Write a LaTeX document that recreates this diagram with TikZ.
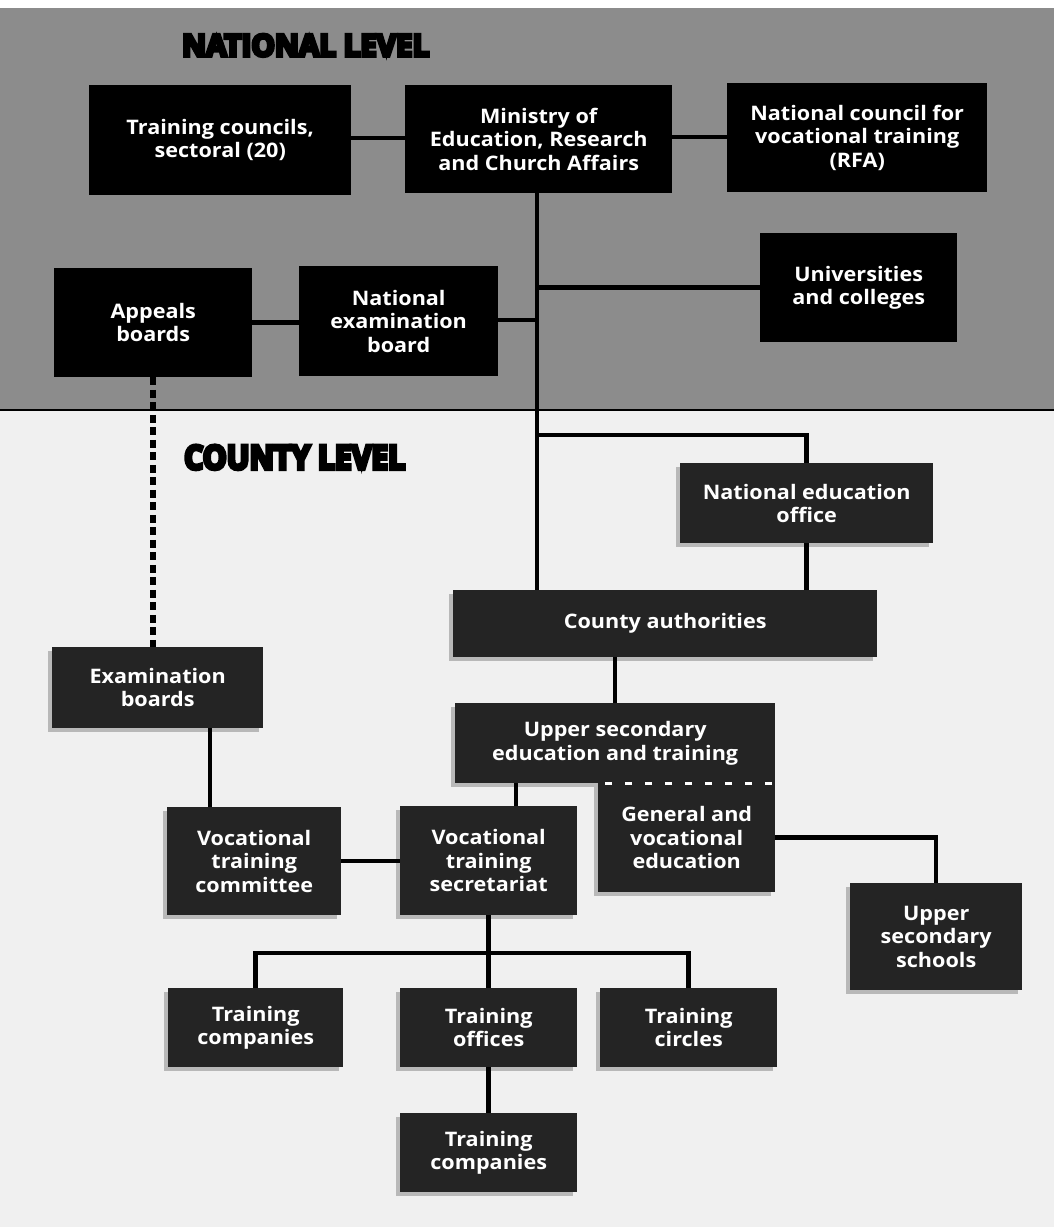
\documentclass[tikz,border=0pt]{standalone}
\usepackage{fontspec}
\usepackage{graphicx}
\usetikzlibrary{shadows}
\setmainfont{Open Sans}[FakeStretch=1.08]
\newfontfamily\heavyfont{Open Sans}
\newcommand\heavytext[1]{\special{pdf:code q 2 Tr 1.1 w 0 G 0 g}{\heavyfont\bfseries #1}\special{pdf:code Q}}
\tikzset{
  nbox/.style={rectangle, fill=black, text=white, inner sep=0pt, align=center,
    anchor=north west, font=\fontsize{20}{23.3}\selectfont\bfseries},
  cbox/.style={nbox, fill=black!86,
    drop shadow={shadow xshift=-4pt, shadow yshift=-4pt, fill=black!28, opacity=1}},
  conn/.style={line width=4.5pt, draw=black},
  dotconn/.style={line width=6.5pt, draw=black, dash pattern=on 8pt off 4.5pt},
  wdash/.style={line width=3pt, draw=white, dash pattern=on 7pt off 13pt},
  ttl/.style={anchor=north west, inner sep=0pt}
}
\begin{document}
\begin{tikzpicture}[x=1pt,y=-1pt]
\useasboundingbox (0,0) rectangle (1054,1227);
% backgrounds
\fill[black!6] (0,410) rectangle (1054,1227);
\fill[black!45] (0,8) rectangle (1054,410);
\draw[line width=1.5pt] (0,410) -- (1054,410);

% titles
\node[ttl] (natl) at (182,34) {\resizebox{247pt}{22pt}{\heavytext{NATIONAL LEVEL}}};
\node[ttl] (cnty) at (184,445) {\resizebox{221pt}{24pt}{\heavytext{COUNTY LEVEL}}};

% national level boxes
\node[nbox, minimum width=262pt, minimum height=110pt] (tc) at (89,85) {Training councils,\\sectoral (20)};
\node[nbox, minimum width=267pt, minimum height=108pt] (min) at (405,85) {Ministry of\\Education, Research\\and Church Affairs};
\node[nbox, minimum width=260pt, minimum height=109pt] (nc) at (727,83) {National council for\\vocational training\\(RFA)};
\node[nbox, minimum width=198pt, minimum height=109pt] (app) at (54,268) {Appeals\\boards};
\node[nbox, minimum width=199pt, minimum height=110pt] (neb) at (299,266) {National\\examination\\board};
\node[nbox, minimum width=197pt, minimum height=109pt] (uni) at (760,233) {Universities\\and colleges};

% county level boxes
\node[cbox, minimum width=253pt, minimum height=80pt] (neo) at (680,463) {National education\\office};
\node[cbox, minimum width=424pt, minimum height=67pt] (ca) at (453,590) {County authorities};
\node[cbox, minimum width=211pt, minimum height=81pt] (eb) at (52,647) {Examination\\boards};
\node[cbox, minimum width=320pt, minimum height=80pt] (us) at (455,703) {Upper secondary\\education and training};
\node[cbox, minimum width=177pt, minimum height=109pt] (gen) at (598,783) {General and\\vocational\\education};
\node[cbox, minimum width=174pt, minimum height=108pt] (vtc) at (167,807) {Vocational\\training\\committee};
\node[cbox, minimum width=177pt, minimum height=109pt] (vts) at (400,806) {Vocational\\training\\secretariat};
\node[cbox, minimum width=172pt, minimum height=107pt] (uss) at (850,883) {Upper\\secondary\\schools};
\node[cbox, minimum width=175pt, minimum height=79pt] (tc1) at (168,988) {Training\\companies};
\node[cbox, minimum width=177pt, minimum height=79pt] (to) at (400,988) {Training\\offices};
\node[cbox, minimum width=177pt, minimum height=79pt] (tci) at (600,988) {Training\\circles};
\node[cbox, minimum width=177pt, minimum height=79pt] (tc2) at (400,1113) {Training\\companies};

% helper coordinates
\coordinate (spine) at (537,193);
\coordinate (ebx) at (210,0);
\coordinate (usx) at (516,0);

% connectors, national level
\draw[conn] (tc.east |- 0,138) -- (min.west |- 0,138);
\draw[conn] (min.east |- 0,137) -- (nc.west |- 0,137);
\draw[conn] (spine) -- (spine |- ca.north);
\draw[conn] (spine |- uni.west) -- (uni.west);
\draw[conn] (neb.east |- 0,320) -- (spine |- 0,320);
\draw[conn] (app.east) -- (app.east -| neb.west);
\draw[dotconn] (app.south) -- (app.south |- eb.north);

% connectors, county level
\draw[conn] (spine |- 0,435) -| (neo.north);
\draw[conn] (neo.south) -- (neo.south |- ca.north);
\draw[conn] (us.north |- ca.south) -- (us.north);
\draw[conn] (eb.south -| ebx) -- (vtc.north -| ebx);
\draw[conn] (vtc.east) -- (vtc.east -| vts.west);
\draw[conn] (us.south -| usx) -- (vts.north -| usx);
\draw[conn] (gen.east) -| (uss.north);
\draw[conn] (vts.south) -- (to.north);
\draw[conn] (tc1.north) -- (tc1.north |- 0,953) -- (tci.north |- 0,953) -- (tci.north);
\draw[conn] (to.south) -- (tc2.north);

% white dashed divider inside the upper secondary block
\draw[wdash] ([xshift=7pt]gen.north west) -- (gen.north east);
\end{tikzpicture}
\end{document}
